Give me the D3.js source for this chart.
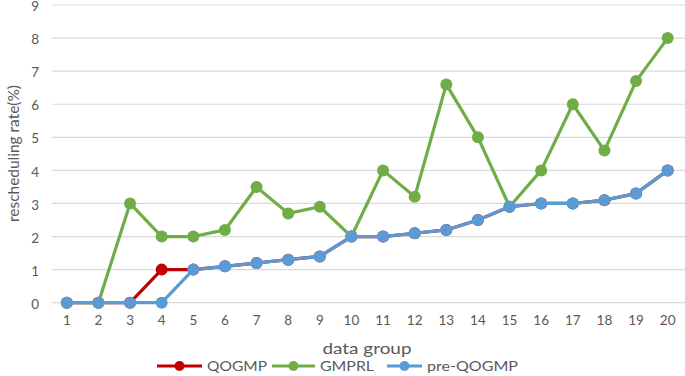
<!DOCTYPE html>
<html><head><meta charset="utf-8">
<script src="https://cdn.jsdelivr.net/npm/d3@7"></script>
<style>body{margin:0;background:#fff;} svg{display:block;font-family:Lato,"Open Sans",sans-serif;}</style>
</head><body>
<svg id="c" width="685" height="376"></svg>
<script>
const categories = ["1","2","3","4","5","6","7","8","9","10","11","12","13","14","15","16","17","18","19","20"];
const yTicks = [0,1,2,3,4,5,6,7,8,9];
const qogmp = [0,0,0,1,1,1.1,1.2,1.3,1.4,2,2,2.1,2.2,2.5,2.9,3,3,3.1,3.3,4];
const gmprl = [0,0,3,2,2,2.2,3.5,2.7,2.9,2,4,3.2,6.6,5,2.9,4,6,4.6,6.7,8];
const preQogmp = [0,0,0,0,1,1.1,1.2,1.3,1.4,2,2,2.1,2.2,2.5,2.9,3,3,3.1,3.3,4];
const seriesNames = ["QOGMP","GMPRL","pre-QOGMP"];
const colors = ["#C00000","#70AD47","#5B9BD5"];
const seriesData = [qogmp, gmprl, preQogmp];

const svg = d3.select("#c");
const x = d3.scaleBand().domain(categories).range([51, 683.5]);
const y = d3.scaleLinear().domain([0,9]).range([302.7, 5]);
const txt = "#595959";

// gridlines
svg.append("g").selectAll("line").data(yTicks).join("line")
  .attr("x1", 52).attr("x2", 685)
  .attr("y1", d=>y(d)).attr("y2", d=>y(d))
  .attr("stroke", "#d9d9d9").attr("stroke-width", 1.2);

// y axis labels
const ya = svg.append("g").attr("transform","translate(51,0)")
  .call(d3.axisLeft(y).tickValues(yTicks).tickSize(0).tickPadding(12));
ya.select(".domain").remove();
ya.selectAll("text").attr("fill", txt).attr("dy","0.42em").style("font-size","13.5px").style("font-family","Lato,'Open Sans',sans-serif");

// x axis labels
const xa = svg.append("g").attr("transform","translate(0,302.7)")
  .call(d3.axisBottom(x).tickSize(0).tickPadding(12.5));
xa.select(".domain").remove();
xa.selectAll("text").attr("fill", txt).style("font-size","13.5px").style("font-family","Lato,'Open Sans',sans-serif");

// titles
svg.append("text").attr("x", 367).attr("y", 353.5).attr("text-anchor","middle")
  .attr("fill", txt).style("font-size","15px")
  .attr("textLength", 89).attr("lengthAdjust","spacingAndGlyphs").text("data group");
svg.append("text").attr("transform","translate(18.5,153.5) rotate(-90)").attr("text-anchor","middle")
  .attr("fill", txt).style("font-size","14.5px")
  .attr("textLength", 137).attr("lengthAdjust","spacingAndGlyphs").text("rescheduling rate(%)");

// lines
const line = d3.line().x((d,i)=>x(categories[i])+x.bandwidth()/2).y(d=>y(d));
seriesData.forEach((s, k) => {
  const g = svg.append("g");
  g.append("path").datum(s).attr("d", line).attr("fill","none")
    .attr("stroke", colors[k]).attr("stroke-width", 3.2).attr("stroke-linejoin","round");
  g.selectAll("circle").data(s).join("circle")
    .attr("cx", (d,i)=>x(categories[i])+x.bandwidth()/2).attr("cy", d=>y(d))
    .attr("r", 6).attr("fill", colors[k]);
});

// legend
const legX = [157, 272, 387];
const legW = [45, 43, 35];
const legTW = [60, 54, 91];
seriesNames.forEach((n,k)=>{
  const g = svg.append("g");
  g.append("line").attr("x1", legX[k]).attr("x2", legX[k]+legW[k]).attr("y1",366).attr("y2",366)
    .attr("stroke", colors[k]).attr("stroke-width",3);
  g.append("circle").attr("cx", legX[k]+legW[k]/2).attr("cy",366).attr("r",5).attr("fill",colors[k]);
  g.append("text").attr("x", legX[k]+legW[k]+5).attr("y", 370.5).attr("fill", txt)
    .style("font-size","13px").attr("textLength", legTW[k]).attr("lengthAdjust","spacingAndGlyphs").text(n);
});
</script>
</body></html>
